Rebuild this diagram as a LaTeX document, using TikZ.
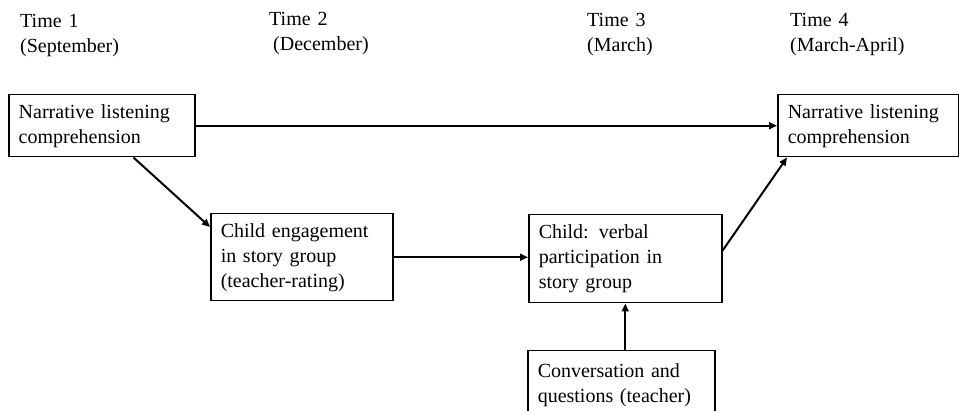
\documentclass[tikz,border=0pt]{standalone}
\usepackage{fontspec}
\setmainfont[WordSpace=1.4]{Liberation Serif}
\usetikzlibrary{arrows.meta,positioning}

\begin{document}
\begin{tikzpicture}[
    x=1pt, y=-1pt,
    % boxes and time labels
    box/.style={rectangle, draw=black, line width=1.5pt, anchor=north west, align=left, inner xsep=10pt, inner ysep=0pt, font=\fontsize{20}{25}\selectfont},
    timelabel/.style={anchor=north west, align=left, inner sep=0pt, font=\fontsize{20}{25}\selectfont},
    link/.style={-{Triangle[length=8pt,width=7pt]}, line width=2pt}
]

% Page frame
\useasboundingbox (0,0) rectangle (959,411);
\clip (0,0) rectangle (959,411);

% Time points
\node[timelabel] (t1) at (20,14) {Time 1\\(September)};
\node[timelabel] (t2) at (269,12) {Time 2\\\hspace*{4pt}(December)};
\node[timelabel] (t3) at (587,13) {Time 3\\(March)};
\node[timelabel] (t4) at (790,13) {Time 4\\(March-April)};

% Measures
\node[box, text width=166pt, minimum height=62pt] (nlc1) at (8,94) {Narrative listening\\comprehension};
\node[box, text width=162pt, minimum height=87pt] (engage) at (210,213) {Child engagement\\in story group\\(teacher-rating)};
\node[box, text width=173pt, minimum height=88pt] (verbal) at (528,214) {Child: verbal\\participation in\\story group};
\node[box, text width=161pt, minimum height=62pt] (nlc4) at (777,94) {Narrative listening\\comprehension};
\node[box, text width=167pt, minimum height=68pt] (convo) at (527,350) {Conversation and\\questions (teacher)};

% Paths
\draw[link] (nlc1.east) -- (nlc4.west);
\draw[link] ([xshift=-62pt]nlc1.south east) -- ([yshift=-14pt]engage.north west);
\draw[link] (engage.east) -- (engage.east -| verbal.west);
\draw[link] ([yshift=8pt]verbal.east) -- ([xshift=10pt]nlc4.south west);
\draw[link] (verbal.south |- convo.north) -- (verbal.south);

\end{tikzpicture}
\end{document}
